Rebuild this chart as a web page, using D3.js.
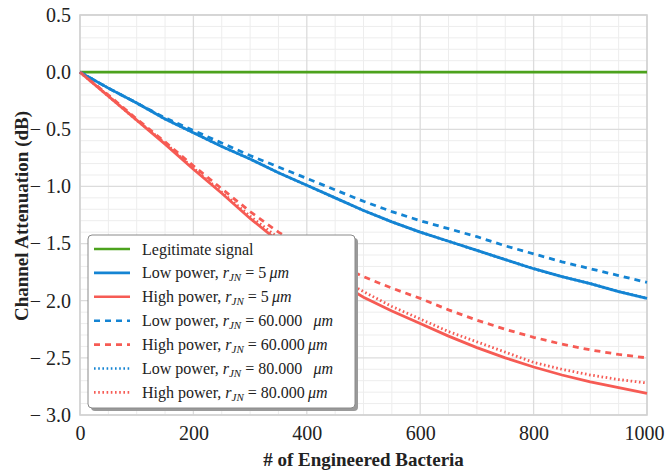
<!DOCTYPE html>
<html>
<head>
<meta charset="utf-8">
<script src="https://cdn.jsdelivr.net/npm/d3@7"></script>
<style>
  body { margin: 0; background: #fff; }
  svg, svg text { font-family: "Liberation Serif", "Times New Roman", Tinos, "DejaVu Serif", serif; }
</style>
</head>
<body>
<svg id="drawing_region"></svg>
<script>
// number of engineered bacteria (x samples)
const bacteria = [0, 50, 100, 150, 200, 250, 300, 350, 400, 450, 500, 550, 600, 650, 700, 750, 800, 850, 900, 950, 1000];

// attenuation in dB
const legitimate = bacteria.map(() => 0);
const low5   = [0, -0.14, -0.27, -0.41, -0.53, -0.65, -0.76, -0.88, -0.99, -1.10, -1.21, -1.31, -1.40, -1.48, -1.56, -1.64, -1.72, -1.79, -1.85, -1.92, -1.98];
const high5  = [0, -0.21, -0.42, -0.63, -0.85, -1.06, -1.28, -1.48, -1.66, -1.82, -1.97, -2.09, -2.20, -2.31, -2.41, -2.50, -2.58, -2.65, -2.71, -2.76, -2.81];
const low60  = [0, -0.14, -0.27, -0.40, -0.51, -0.62, -0.73, -0.83, -0.93, -1.03, -1.13, -1.22, -1.30, -1.37, -1.44, -1.52, -1.59, -1.66, -1.72, -1.78, -1.84];
const high60 = [0, -0.20, -0.41, -0.61, -0.82, -1.02, -1.22, -1.40, -1.54, -1.67, -1.79, -1.89, -1.98, -2.08, -2.17, -2.25, -2.32, -2.38, -2.43, -2.47, -2.50];
const low80  = [0, -0.14, -0.27, -0.41, -0.53, -0.65, -0.76, -0.88, -0.99, -1.10, -1.21, -1.31, -1.40, -1.48, -1.56, -1.64, -1.72, -1.79, -1.85, -1.92, -1.98];
const high80 = [0, -0.21, -0.42, -0.62, -0.84, -1.05, -1.26, -1.45, -1.62, -1.78, -1.92, -2.05, -2.16, -2.27, -2.36, -2.45, -2.54, -2.60, -2.65, -2.69, -2.72];

const xTicks = [0, 200, 400, 600, 800, 1000];
const yTicks = [0.5, 0.0, -0.5, -1.0, -1.5, -2.0, -2.5, -3.0];

const blue = '#1484d3', red = '#f65b54', green = '#4ca21d';
const serif = '"Liberation Serif", "Times New Roman", Tinos, "DejaVu Serif", serif';

const series = [
    { label: ['Legitimate signal'], values: legitimate, color: green, dash: null },
    { label: ['Low power, ', '5', ''], values: low5, color: blue, dash: null },
    { label: ['High power, ', '5', ''], values: high5, color: red, dash: null },
    { label: ['Low power, ', '60.000', '\u2002'], values: low60, color: blue, dash: '6,5' },
    { label: ['High power, ', '60.000', ''], values: high60, color: red, dash: '6,5' },
    { label: ['Low power, ', '80.000', '\u2002'], values: low80, color: blue, dash: '1.6,2.6' },
    { label: ['High power, ', '80.000', ''], values: high80, color: red, dash: '1.6,2.6' }
];

const config = {
    width: 665,
    height: 472,
    margin: { top: 15, right: 18, bottom: 57, left: 80 }
};

const svg = d3.select('#drawing_region')
    .attr('width', config.width)
    .attr('height', config.height)
    .style('font-family', serif);

const inner_width = config.width - config.margin.left - config.margin.right;
const inner_height = config.height - config.margin.top - config.margin.bottom;

const chart = svg.append('g')
    .attr('transform', `translate(${config.margin.left}, ${config.margin.top})`);

const xscale = d3.scaleLinear().domain([0, 1000]).range([0, inner_width]);
const yscale = d3.scaleLinear().domain([-3, 0.5]).range([inner_height, 0]);

// minor grid
chart.append('g').selectAll('line')
    .data(d3.range(0, 1001, 50).filter(v => v % 200 !== 0))
    .join('line')
    .attr('x1', d => xscale(d)).attr('x2', d => xscale(d))
    .attr('y1', 0).attr('y2', inner_height)
    .attr('stroke', '#ededed').attr('stroke-width', 1);

chart.append('g').selectAll('line')
    .data(d3.range(-30, 6, 1).map(v => v / 10).filter(v => Math.round(v * 10) % 5 !== 0))
    .join('line')
    .attr('y1', d => yscale(d)).attr('y2', d => yscale(d))
    .attr('x1', 0).attr('x2', inner_width)
    .attr('stroke', '#ededed').attr('stroke-width', 1);

// major grid
chart.append('g').selectAll('line')
    .data(xTicks)
    .join('line')
    .attr('x1', d => xscale(d)).attr('x2', d => xscale(d))
    .attr('y1', 0).attr('y2', inner_height)
    .attr('stroke', '#dcdcdc').attr('stroke-width', 1.3);

chart.append('g').selectAll('line')
    .data(yTicks)
    .join('line')
    .attr('y1', d => yscale(d)).attr('y2', d => yscale(d))
    .attr('x1', 0).attr('x2', inner_width)
    .attr('stroke', '#dcdcdc').attr('stroke-width', 1.3);

// frame
chart.append('rect')
    .attr('width', inner_width).attr('height', inner_height)
    .attr('fill', 'none').attr('stroke', '#d2d2d2').attr('stroke-width', 1.6);

// axes (labels only)
const fmt = v => (v < 0 ? '\u2212 ' : '') + Math.abs(v).toFixed(1);

const yaxis = chart.append('g')
    .call(d3.axisLeft(yscale).tickValues(yTicks).tickFormat(fmt).tickSize(0).tickPadding(9));
const xaxis = chart.append('g')
    .attr('transform', `translate(0, ${inner_height})`)
    .call(d3.axisBottom(xscale).tickValues(xTicks).tickFormat(d3.format('d')).tickSize(0).tickPadding(11));

[xaxis, yaxis].forEach(a => {
    a.attr('font-family', null).attr('font-size', null);
    a.select('.domain').remove();
    a.selectAll('text')
        .style('font-family', serif)
        .style('font-size', '20px')
        .style('white-space', 'pre')
        .attr('fill', '#222');
});
// keep the last x label inside the window
xaxis.selectAll('text').filter(d => d === 1000).attr('dx', -3);

// lines
const line = d3.line()
    .x((d, i) => xscale(bacteria[i]))
    .y(d => yscale(d));

chart.append('g').selectAll('path')
    .data(series)
    .join('path')
    .attr('d', d => line(d.values))
    .attr('fill', 'none')
    .attr('stroke', d => d.color)
    .attr('stroke-width', 2.8)
    .attr('stroke-dasharray', d => d.dash);

// axis titles
svg.append('text')
    .attr('x', config.margin.left + inner_width / 2)
    .attr('y', 466)
    .attr('text-anchor', 'middle')
    .style('font-family', serif)
    .style('font-size', '19px')
    .style('font-weight', 'bold')
    .attr('fill', '#222')
    .text('# of Engineered Bacteria');

svg.append('text')
    .attr('transform', 'rotate(-90)')
    .attr('x', -216)
    .attr('y', 28)
    .attr('text-anchor', 'middle')
    .style('font-family', serif)
    .style('font-size', '19px')
    .style('font-weight', 'bold')
    .attr('fill', '#222')
    .text('Channel Attenuation (dB)');

// legend
const legend = svg.append('g').attr('transform', 'translate(88, 235)');
const lw = 267, lh = 173;

legend.append('rect')
    .attr('x', 3).attr('y', 3).attr('width', lw).attr('height', lh)
    .attr('rx', 4).attr('fill', '#9a9a9a');
legend.append('rect')
    .attr('width', lw).attr('height', lh)
    .attr('rx', 4).attr('fill', '#fff').attr('stroke', '#8a8a8a').attr('stroke-width', 1);

const rows = legend.selectAll('g.row')
    .data(series)
    .join('g')
    .attr('class', 'row')
    .attr('transform', (d, i) => `translate(0, ${14 + i * 23.9})`);

rows.append('line')
    .attr('x1', 6).attr('x2', 42)
    .attr('stroke', d => d.color)
    .attr('stroke-width', 2.6)
    .attr('stroke-dasharray', d => d.dash);

const txt = rows.append('text')
    .attr('x', 54)
    .attr('y', 5.5)
    .style('font-family', serif)
    .style('font-size', '16px')
    .attr('fill', '#222');

txt.each(function (d) {
    const t = d3.select(this);
    t.append('tspan').text(d.label[0]);
    if (d.label.length === 1) return;
    t.append('tspan').style('font-style', 'italic').text('r');
    t.append('tspan').style('font-style', 'italic').style('font-size', '11px').attr('dy', 3).text('JN');
    t.append('tspan').attr('dy', -3).text(' = ' + d.label[1] + '\u2009' + d.label[2]);
    t.append('tspan').style('font-style', 'italic').text('\u03bcm');
});
</script>
</body>
</html>
